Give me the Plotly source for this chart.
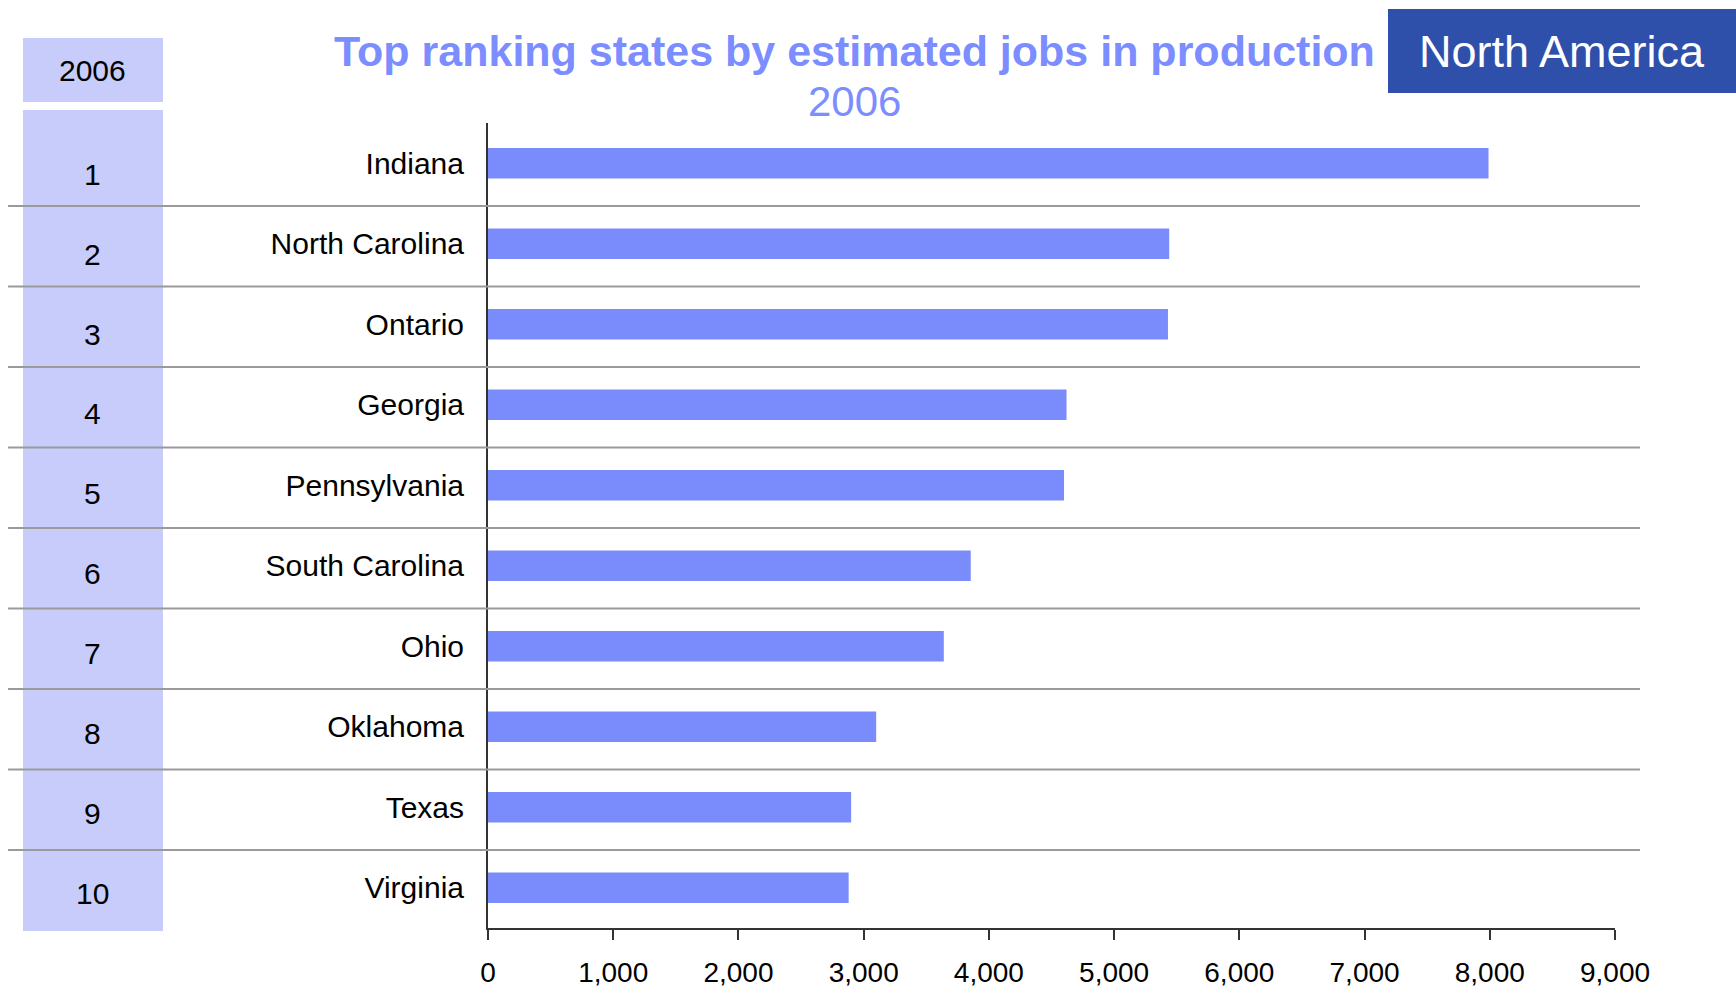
import plotly.graph_objects as go

# Data
states = ["Indiana", "North Carolina", "Ontario", "Georgia", "Pennsylvania",
          "South Carolina", "Ohio", "Oklahoma", "Texas", "Virginia"]
jobs = [7990, 5440, 5430, 4620, 4600, 3855, 3640, 3100, 2900, 2880]
ranks = ["1", "2", "3", "4", "5", "6", "7", "8", "9", "10"]
year_label = "2006"
tick_values = [0, 1000, 2000, 3000, 4000, 5000, 6000, 7000, 8000, 9000]

# Page geometry (pixels)
W, H = 1736, 987
L, R, T, B = 488, 121, 123, 59
PW, PH = W - L - R, H - T - B

def px_x(x):
    return (x - L) / PW

def px_y(y):
    return (H - B - y) / PH

FONT = "Arial, Liberation Sans, sans-serif"
BAR = "#7A8BFC"
PALE = "#C7CCFA"
DARK = "#2E4FAA"

fig = go.Figure(go.Bar(
    x=jobs, y=states, orientation="h", width=0.38,
    marker=dict(color=BAR, line=dict(width=0)),
    hoverinfo="x+y",
))

shapes = []
# rank column backgrounds
shapes.append(dict(type="rect", xref="paper", yref="paper",
                   x0=px_x(23), x1=px_x(163), y0=px_y(102), y1=px_y(38),
                   fillcolor=PALE, line=dict(width=0), layer="below"))
shapes.append(dict(type="rect", xref="paper", yref="paper",
                   x0=px_x(23), x1=px_x(163), y0=px_y(931), y1=px_y(110),
                   fillcolor=PALE, line=dict(width=0), layer="below"))
# region badge
shapes.append(dict(type="rect", xref="paper", yref="paper",
                   x0=px_x(1388), x1=px_x(1736), y0=px_y(93), y1=px_y(9),
                   fillcolor=DARK, line=dict(width=0)))
# row separators
for i in range(len(states) - 1):
    shapes.append(dict(type="line", xref="paper", yref="y",
                       x0=px_x(8), x1=px_x(1640), y0=i + 0.53, y1=i + 0.53,
                       line=dict(color="#9A9A9A", width=2)))

annotations = [
    dict(text="<b>Top ranking states by estimated jobs in production</b>",
         xref="paper", yref="paper", x=px_x(854), y=px_y(51),
         xanchor="center", yanchor="middle", showarrow=False,
         font=dict(family=FONT, size=43, color="#7B8DFF")),
    dict(text=year_label, xref="paper", yref="paper", x=px_x(854), y=px_y(102),
         xanchor="center", yanchor="middle", showarrow=False,
         font=dict(family=FONT, size=42, color="#7B8DFF")),
    dict(text="North America", xref="paper", yref="paper", x=px_x(1562), y=px_y(51),
         xanchor="center", yanchor="middle", showarrow=False,
         font=dict(family=FONT, size=45, color="white")),
    dict(text=year_label, xref="paper", yref="paper", x=px_x(93), y=px_y(70),
         xanchor="center", yanchor="middle", showarrow=False,
         font=dict(family=FONT, size=30, color="black")),
]
# rank numbers sit slightly below each bar, drifting up toward the bottom rows
for i, r in enumerate(ranks):
    annotations.append(dict(text=r, xref="paper", yref="y", x=px_x(93), y=i,
                            yshift=-(11 - 0.6 * i), xanchor="center",
                            yanchor="middle", showarrow=False,
                            font=dict(family=FONT, size=30, color="black")))

fig.update_layout(
    width=W, height=H,
    margin=dict(l=L, r=R, t=T, b=B, pad=0, autoexpand=False),
    paper_bgcolor="white", plot_bgcolor="white",
    showlegend=False,
    shapes=shapes,
    annotations=annotations,
    xaxis=dict(range=[0, 9000], tickvals=tick_values, tickformat=",",
               automargin=False,
               showgrid=False, zeroline=False,
               showline=True, linecolor="#333333", linewidth=2,
               ticks="outside", ticklen=10, tickwidth=1.5, tickcolor="#333333",
               ticklabelstandoff=8,
               tickfont=dict(family=FONT, size=28, color="black")),
    yaxis=dict(categoryorder="array", categoryarray=states,
               range=[9.5, -0.5], automargin=False,
               showgrid=False, zeroline=False,
               showline=True, linecolor="#333333", linewidth=2,
               ticks="", ticklabelstandoff=16,
               tickfont=dict(family=FONT, size=30, color="black")),
)

fig.write_html("out.html")
